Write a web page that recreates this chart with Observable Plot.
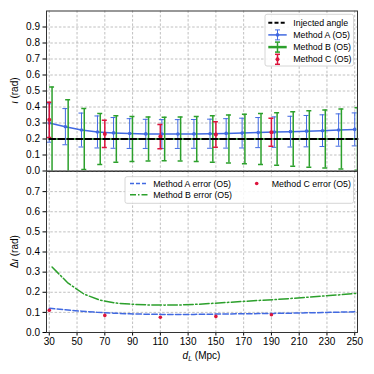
<!DOCTYPE html>
<html><head><meta charset="utf-8">
<script src="https://cdn.jsdelivr.net/npm/d3@7"></script>
<script src="https://cdn.jsdelivr.net/npm/@observablehq/plot@0.6"></script>
<style>
body{margin:0;background:white;}
#wrap{position:relative;width:374px;height:374px;overflow:hidden;background:white;}
#wrap svg{display:block;}
#overlay{position:absolute;left:0;top:0;pointer-events:none;z-index:2;}
</style></head>
<body><div id="wrap"></div>
<script>
// Method A (O5): x, inclination estimate, error
const xA = [30, 41.6, 53.2, 64.7, 76.3, 87.9, 99.5, 111.1, 122.6, 134.2, 145.8, 157.4, 168.9, 180.5, 192.1, 203.7, 215.3, 226.8, 238.4, 250];
const iotaA = [0.300, 0.277, 0.256, 0.244, 0.238, 0.234, 0.232, 0.231, 0.231, 0.232, 0.233, 0.235, 0.237, 0.240, 0.243, 0.246, 0.249, 0.252, 0.256, 0.260];
const errA = [0.120, 0.113, 0.106, 0.100, 0.096, 0.093, 0.091, 0.090, 0.090, 0.090, 0.091, 0.092, 0.093, 0.094, 0.095, 0.096, 0.098, 0.099, 0.101, 0.103];
// Method B (O5)
const xB = [32, 43.6, 55.2, 66.7, 78.3, 89.9, 101.5, 113.1, 124.6, 136.2, 147.8, 159.4, 170.9, 182.5, 194.1, 205.7, 217.3, 228.8, 240.4, 252];
const iotaB = [0.20, 0.20, 0.20, 0.20, 0.20, 0.20, 0.20, 0.20, 0.20, 0.20, 0.20, 0.20, 0.20, 0.20, 0.20, 0.20, 0.20, 0.20, 0.20, 0.20];
const errB = [0.325, 0.245, 0.190, 0.160, 0.146, 0.140, 0.137, 0.136, 0.137, 0.140, 0.145, 0.150, 0.155, 0.160, 0.164, 0.170, 0.176, 0.182, 0.188, 0.195];
// Method C (O5)
const xC = [30, 70, 110, 150, 190];
const iotaC = [0.320, 0.232, 0.215, 0.228, 0.242];
const errC = [0.110, 0.085, 0.076, 0.080, 0.088];
// Injected angle
const injX = [30, 252];
const injY = [0.2, 0.2];
// ticks
const xTicks = [30, 50, 70, 90, 110, 130, 150, 170, 190, 210, 230, 250];
const yTicksTop = [0, 0.1, 0.2, 0.3, 0.4, 0.5, 0.6, 0.7, 0.8, 0.9];
const yTicksBot = [0, 0.1, 0.2, 0.3, 0.4, 0.5, 0.6, 0.7];

const blue = "#4169e1", green = "#2ca02c", red = "#dc143c";
const FONT = "'Liberation Sans', Arial, sans-serif";

const dataA = xA.map((x, i) => ({x, y: iotaA[i], e: errA[i]}));
const dataB = xB.map((x, i) => ({x, y: iotaB[i], e: errB[i]}));
const dataC = xC.map((x, i) => ({x, y: iotaC[i], e: errC[i]}));
const dataInj = injX.map((x, i) => ({x, y: injY[i]}));
const capW = 1.8;

function errMarks(data, color, w) {
  return [
    Plot.ruleX(data, {x: "x", y1: d => d.y - d.e, y2: d => d.y + d.e, stroke: color, strokeWidth: w, clip: true}),
    Plot.ruleY(data, {y: d => d.y + d.e, x1: d => d.x - capW, x2: d => d.x + capW, stroke: color, strokeWidth: w, clip: true}),
    Plot.ruleY(data, {y: d => d.y - d.e, x1: d => d.x - capW, x2: d => d.x + capW, stroke: color, strokeWidth: w, clip: true})
  ];
}
const gridStyle = {stroke: "#b0b0b0", strokeOpacity: 1, strokeWidth: 0.8, strokeDasharray: "2.5,1.8"};

const topPlot = Plot.plot({
  width: 374, height: 171, marginTop: 10.5, marginBottom: 0.5, marginLeft: 46, marginRight: 17,
  style: {fontFamily: FONT, fontSize: "10px", background: "none", color: "black", overflow: "visible", position: "relative", zIndex: 1},
  x: {domain: [28, 252], axis: null},
  y: {domain: [0, 1]},
  marks: [
    Plot.gridX(xTicks, gridStyle),
    Plot.gridY(yTicksTop, gridStyle),
    Plot.axisY({ticks: yTicksTop, tickSize: 3.5, tickPadding: 3, tickFormat: d3.format(".1f"), label: null, fontSize: 10}),
    Plot.line(dataB, {x: "x", y: "y", stroke: green, strokeWidth: 1.5}),
    ...errMarks(dataA, blue, 1),
    Plot.line(dataA, {x: "x", y: "y", stroke: blue, strokeWidth: 1.5}),
    Plot.dot(dataA, {x: "x", y: "y", r: 1.8, fill: blue}),
    ...errMarks(dataB, green, 1.5),
    ...errMarks(dataC, red, 1.5),
    Plot.dot(dataC, {x: "x", y: "y", r: 2, fill: red}),
    Plot.line(dataInj, {x: "x", y: "y", stroke: "black", strokeWidth: 2, strokeDasharray: "6,3"}),
    Plot.frame({stroke: "#333", strokeWidth: 1})
  ]
});

const botPlot = Plot.plot({
  width: 374, height: 203, marginTop: 0, marginBottom: 42, marginLeft: 46, marginRight: 17,
  style: {fontFamily: FONT, fontSize: "10px", background: "none", color: "black"},
  x: {domain: [28, 252]},
  y: {domain: [0, 0.8]},
  marks: [
    Plot.gridX(xTicks, gridStyle),
    Plot.gridY(yTicksBot, gridStyle),
    Plot.axisY({ticks: yTicksBot, tickSize: 3.5, tickPadding: 3, tickFormat: d3.format(".1f"), label: null, fontSize: 10}),
    Plot.axisX({ticks: xTicks, tickSize: 3.5, tickPadding: 1.5, label: null, fontSize: 10}),
    Plot.line(dataA, {x: "x", y: "e", stroke: blue, strokeWidth: 1.5, strokeDasharray: "5.5,2.4"}),
    Plot.line(dataB, {x: "x", y: "e", stroke: green, strokeWidth: 1.5, strokeDasharray: "9.6,2.4,1.5,2.4"}),
    Plot.dot(dataC, {x: "x", y: "e", r: 1.8, fill: red}),
    Plot.frame({stroke: "#333", strokeWidth: 1})
  ]
});

const wrap = document.getElementById("wrap");
wrap.appendChild(topPlot);
wrap.appendChild(botPlot);

// overlay: axis labels and legends
const ov = d3.select(wrap).append("svg").attr("id", "overlay")
  .attr("width", 374).attr("height", 374)
  .style("font-family", FONT);

function ylabel(cy, prefix) {
  const t = ov.append("text").attr("transform", `translate(14,${cy}) rotate(-90)`)
    .attr("text-anchor", "middle").attr("dominant-baseline", "central").attr("font-size", 10);
  if (prefix) t.append("tspan").text(prefix);
  t.append("tspan").attr("font-style", "italic").text("ι");
  t.append("tspan").text(" (rad)");
}
ylabel(90.5, null);
ylabel(251.5, "Δ");

const xl = ov.append("text").attr("x", 201.5).attr("y", 358.5).attr("text-anchor", "middle").attr("font-size", 10);
xl.append("tspan").attr("font-style", "italic").text("d");
xl.append("tspan").attr("font-style", "italic").attr("font-size", 7).attr("dy", 2).text("L");
xl.append("tspan").attr("dy", -2).text(" (Mpc)");

// top legend
const LF = 8.8;
ov.append("rect").attr("x", 265).attr("y", 14.3).attr("width", 88.5).attr("height", 51.7).attr("rx", 2)
  .attr("fill", "white").attr("fill-opacity", 0.85).attr("stroke", "#cccccc").attr("stroke-width", 0.8);
const rows = [22.7, 34.9, 47.1, 59.3];
const labelsTop = ["Injected angle", "Method A (O5)", "Method B (O5)", "Method C (O5)"];
const lx1 = 268.3, lx2 = 286.7, lxc = 277.5;
function legErr(y, color, w) {
  ov.append("line").attr("x1", lxc).attr("x2", lxc).attr("y1", y - 5).attr("y2", y + 5).attr("stroke", color).attr("stroke-width", w);
  [y - 5, y + 5].forEach(yy => ov.append("line").attr("x1", lxc - 2.5).attr("x2", lxc + 2.5).attr("y1", yy).attr("y2", yy).attr("stroke", color).attr("stroke-width", w));
}
ov.append("line").attr("x1", lx1).attr("x2", lx2).attr("y1", rows[0]).attr("y2", rows[0]).attr("stroke", "black").attr("stroke-width", 2).attr("stroke-dasharray", "4,2.2");
ov.append("line").attr("x1", lx1).attr("x2", lx2).attr("y1", rows[1]).attr("y2", rows[1]).attr("stroke", blue).attr("stroke-width", 1.5);
legErr(rows[1], blue, 1);
ov.append("circle").attr("cx", lxc).attr("cy", rows[1]).attr("r", 1.8).attr("fill", blue);
ov.append("line").attr("x1", lx1).attr("x2", lx2).attr("y1", rows[2]).attr("y2", rows[2]).attr("stroke", green).attr("stroke-width", 2.5);
legErr(rows[2], green, 1.5);
legErr(rows[3], red, 1.5);
ov.append("circle").attr("cx", lxc).attr("cy", rows[3]).attr("r", 2).attr("fill", red);
labelsTop.forEach((s, i) => ov.append("text").attr("x", 293.3).attr("y", rows[i]).attr("dominant-baseline", "central").attr("font-size", LF).text(s));

// bottom legend
ov.append("rect").attr("x", 125).attr("y", 176.7).attr("width", 228.5).attr("height", 26.6).attr("rx", 2)
  .attr("fill", "white").attr("fill-opacity", 0.85).attr("stroke", "#cccccc").attr("stroke-width", 0.8);
const br = [183.5, 194.7];
ov.append("line").attr("x1", 130).attr("x2", 147.7).attr("y1", br[0]).attr("y2", br[0]).attr("stroke", blue).attr("stroke-width", 1.5).attr("stroke-dasharray", "4,2");
ov.append("line").attr("x1", 130).attr("x2", 147.7).attr("y1", br[1]).attr("y2", br[1]).attr("stroke", green).attr("stroke-width", 1.5).attr("stroke-dasharray", "6,2,1.5,2");
ov.append("circle").attr("cx", 256.7).attr("cy", br[0]).attr("r", 1.8).attr("fill", red);
ov.append("text").attr("x", 153.3).attr("y", br[0]).attr("dominant-baseline", "central").attr("font-size", LF).text("Method A error (O5)");
ov.append("text").attr("x", 153.3).attr("y", br[1]).attr("dominant-baseline", "central").attr("font-size", LF).text("Method B error (O5)");
ov.append("text").attr("x", 271.7).attr("y", br[0]).attr("dominant-baseline", "central").attr("font-size", LF).text("Method C error (O5)");
</script></body></html>
